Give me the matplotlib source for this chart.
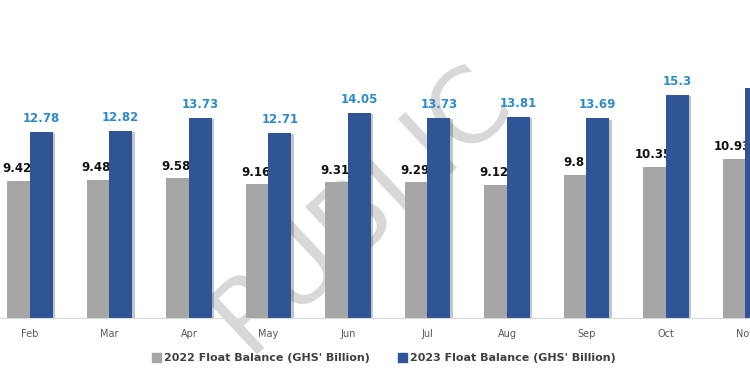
import matplotlib
matplotlib.use("Agg")
import matplotlib.pyplot as plt
import matplotlib.patheffects as pe
from matplotlib.patches import Patch
import numpy as np

months = ["Feb", "Mar", "Apr", "May", "Jun", "Jul", "Aug", "Sep", "Oct", "Nov"]
float_2022 = [9.42, 9.48, 9.58, 9.16, 9.31, 9.29, 9.12, 9.8, 10.35, 10.93]
float_2023 = [12.78, 12.82, 13.73, 12.71, 14.05, 13.73, 13.81, 13.69, 15.3, 15.8]
labels_2022 = ["9.42", "9.48", "9.58", "9.16", "9.31", "9.29", "9.12", "9.8", "10.35", "10.93"]
labels_2023 = ["12.78", "12.82", "13.73", "12.71", "14.05", "13.73", "13.81", "13.69", "15.3", "15.8"]

grey = "#a6a6a6"
blue = "#2f5597"
lblue = "#2e8bc9"

fig = plt.figure(figsize=(7.5, 3.75), dpi=100)
ax = fig.add_axes([0, 0.152, 1, 0.848])
ax.set_zorder(1)

x = np.arange(len(months))
w = 0.285

# watermark behind the bars
fig.text(0.482, 0.445, "PUBLIC", fontsize=74, color="#d8d8d8", rotation=43,
         ha="center", va="center", fontfamily="DejaVu Sans", fontweight="normal",
         zorder=0)

b1 = ax.bar(x - w / 2, float_2022, w, color=grey, zorder=2)
b2 = ax.bar(x + w / 2, float_2023, w, color=blue, zorder=3)
for bar in b2:
    bar.set_path_effects([pe.SimplePatchShadow(offset=(2, -1), alpha=0.25), pe.Normal()])

for bar, t in zip(b1, labels_2022):
    ax.annotate(t, (bar.get_x() + bar.get_width() / 2 - 0.02, bar.get_height()),
                xytext=(0, 4), textcoords="offset points", ha="center", va="bottom",
                fontsize=8.5, fontweight="bold", color="#111111", zorder=2.5)
for bar, t in zip(b2, labels_2023):
    ax.annotate(t, (bar.get_x() + bar.get_width() / 2, bar.get_height()),
                xytext=(0, 5), textcoords="offset points", ha="center", va="bottom",
                fontsize=8.5, fontweight="bold", color=lblue, zorder=4)

ax.set_xlim(-0.377, 9.057)
ax.set_ylim(0, 21.8)
ax.patch.set_alpha(0)
for s in ["top", "right", "left"]:
    ax.spines[s].set_visible(False)
ax.spines["bottom"].set_color("#d9d9d9")
ax.spines["bottom"].set_zorder(5)
ax.set_yticks([])
ax.set_xticks(x)
ax.set_xticklabels(months, fontsize=7, color="#595959")
ax.tick_params(axis="x", length=0, pad=8)

handles = [Patch(color=grey), Patch(color=blue)]
fig.legend(handles, ["2022 Float Balance (GHS' Billion)", "2023 Float Balance (GHS' Billion)"],
           loc="center", bbox_to_anchor=(0.512, 0.045), ncol=2, frameon=False,
           handlelength=0.8, handleheight=0.8, handletextpad=0.3, columnspacing=2.5,
           prop={"size": 8, "weight": "semibold"}, labelcolor="#404040")

fig.savefig("out.png", dpi=100)
